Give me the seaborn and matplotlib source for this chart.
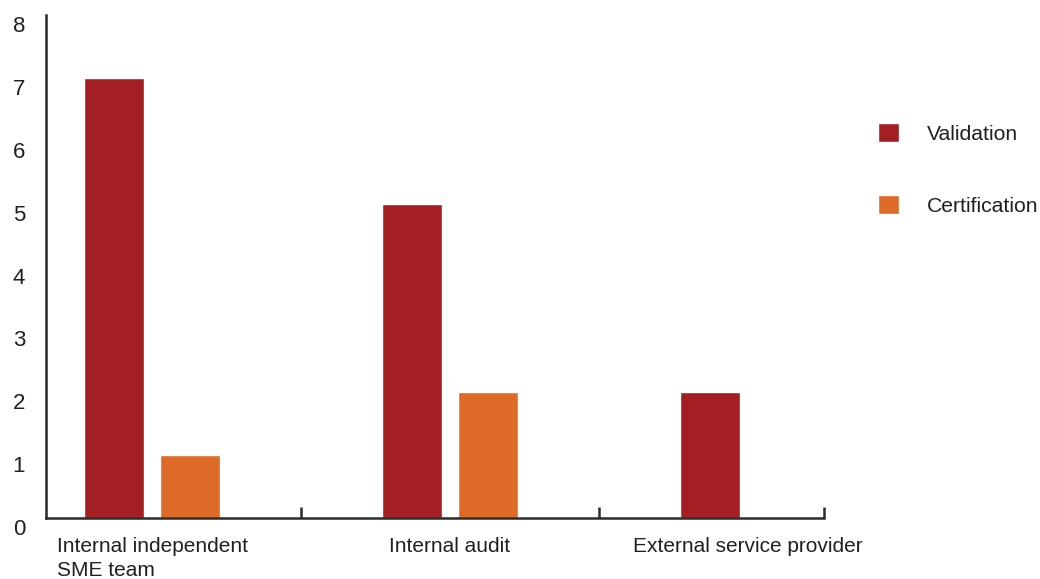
import matplotlib
matplotlib.use("Agg")
import matplotlib.pyplot as plt
import matplotlib.transforms as mtransforms
import numpy as np
import pandas as pd
import seaborn as sns

# Reviewer type per category, count of responses for each activity
categories = ["Internal independent\nSME team", "Internal audit", "External service provider"]
series = ["Validation", "Certification"]
validation = [7, 5, 2]
certification = [1, 2, 0]
y_ticks = [0, 1, 2, 3, 4, 5, 6, 7, 8]

colors = {"Validation": "#A31F24", "Certification": "#DE6A27"}
text_color = "#231F20"
axis_color = "#2B2B2B"

df = pd.DataFrame({
    "category": categories * 2,
    "series": [series[0]] * len(categories) + [series[1]] * len(categories),
    "value": validation + certification,
})

sns.set_theme(style="white")
plt.rcParams["font.family"] = ["Liberation Sans", "DejaVu Sans"]

fig = plt.figure(figsize=(10.4, 5.79), dpi=100)
ax = fig.add_axes([0.0442, 0.1054, 0.7481, 0.8686])

sns.barplot(data=df, x="category", y="value", hue="series", order=categories,
            hue_order=series, palette=colors, width=0.51, gap=0.2,
            saturation=1, legend=True, ax=ax)

ax.set_xlim(-0.356, 2.255)
ax.set_ylim(0, 8.0)
ax.set_xlabel("")
ax.set_ylabel("")

# spines: only left and bottom
for side in ["top", "right"]:
    ax.spines[side].set_visible(False)
for side in ["left", "bottom"]:
    ax.spines[side].set_color(axis_color)
    ax.spines[side].set_linewidth(1.8)

# category labels centred under groups, separators as small inward ticks
ax.tick_params(axis="x", which="major", length=0, pad=14, labelsize=15,
               labelcolor=text_color)
ax.set_xticks([0.5, 1.5, 2.255], minor=True)
ax.tick_params(axis="x", which="minor", direction="in", length=8, width=1.8,
               color=axis_color, bottom=True)
for lbl in ax.get_xticklabels():
    lbl.set_multialignment("left")
    lbl.set_linespacing(1.3)

# y axis labels without tick marks, nudged slightly downward
ax.set_yticks(y_ticks)
ax.set_yticklabels([str(t) for t in y_ticks])
ax.tick_params(axis="y", length=0, pad=15, labelsize=16, labelcolor=text_color)
offset = mtransforms.ScaledTranslation(0, -9 / 100, fig.dpi_scale_trans)
for lbl in ax.get_yticklabels():
    lbl.set_transform(lbl.get_transform() + offset)

# legend to the right of the plot
handles, labels = ax.get_legend_handles_labels()
ax.legend(handles, labels, loc="upper left", bbox_to_anchor=(878 / 1040, 1 - 123 / 579),
          bbox_transform=fig.transFigure, frameon=False, fontsize=15.2,
          labelcolor=text_color, handlelength=1.0, handleheight=1.0,
          handletextpad=1.3, labelspacing=2.45, borderpad=0, borderaxespad=0)

fig.savefig("out.png", dpi=100, facecolor="white")
